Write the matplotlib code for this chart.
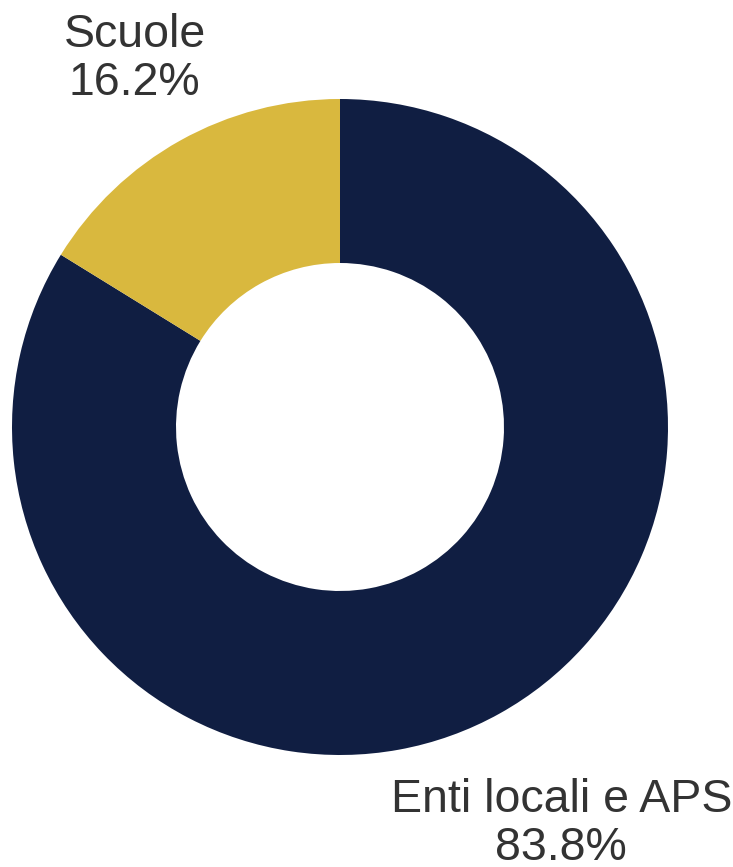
"""Donut chart: share of participants by organisation type."""

import matplotlib

matplotlib.use("Agg")
import matplotlib.pyplot as plt
import numpy as np

CATEGORIES = ["Enti locali e APS", "Scuole"]
SHARES = [83.8, 16.2]
SLICE_COLORS = ["#101e42", "#d9b83e"]

TEXT_COLOR = "#333333"
FIG_W, FIG_H = 733, 867
CENTER = (340, FIG_H - 427)
RADIUS = 328
LABEL_DISTANCE = [1.385, 1.285]

figure = plt.figure(figsize=(FIG_W / 100, FIG_H / 100), dpi=100)
axis = figure.add_axes([0, 0, 1, 1])

wedges, _ = axis.pie(
    SHARES,
    colors=SLICE_COLORS,
    center=CENTER,
    radius=RADIUS,
    startangle=90,
    counterclock=False,
    wedgeprops={"width": RADIUS * 0.5, "linewidth": 0},
)
# pie() resets the limits, so set the pixel frame afterwards
axis.set_xlim(0, FIG_W)
axis.set_ylim(0, FIG_H)
axis.set_aspect("equal")
axis.axis("off")

for wedge, name, share, dist in zip(wedges, CATEGORIES, SHARES, LABEL_DISTANCE):
    mid = np.deg2rad((wedge.theta1 + wedge.theta2) / 2)
    x = CENTER[0] + RADIUS * dist * np.cos(mid)
    y = CENTER[1] + RADIUS * dist * np.sin(mid)
    axis.text(
        x, y, f"{name}\n{share:.1f}%",
        ha="center", va="center", ma="center",
        fontsize=33.5, linespacing=1.12,
        family="Liberation Sans", color=TEXT_COLOR,
    )

figure.savefig("out.png", dpi=100)
plt.close(figure)
